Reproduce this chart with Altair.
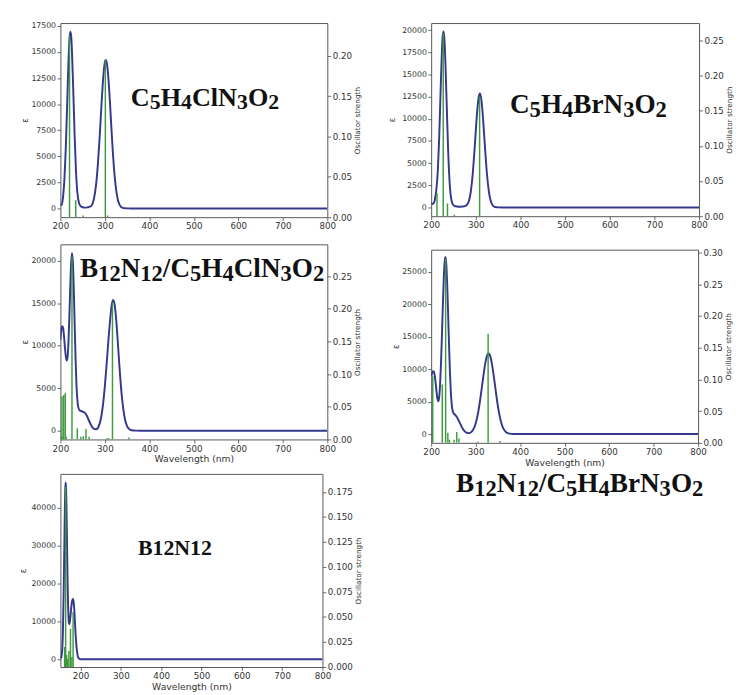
import altair as alt
import pandas as pd

# ---------------- data ----------------
# Panel 1: C5H4ClN3O2
p1_wl = [200, 203, 206, 209, 212, 215, 218, 220, 222, 224, 226, 229, 232, 235, 238, 242, 246, 250, 255, 260,
         265, 270, 275, 280, 284, 288, 292, 295, 298, 300, 302, 304, 306, 309, 312, 315, 318, 322, 326, 330,
         335, 340, 345, 350, 360, 380, 800]
p1_eps = [400, 330, 1140, 2790, 5690, 9730, 13900, 15980, 16960, 16620, 15060, 11180, 6950, 3610, 1570, 500, 200, 110, 80, 100,
          160, 280, 865, 2210, 4100, 6700, 9700, 11800, 13400, 14030, 14250, 14030, 13400, 11800, 9700, 7440, 5320, 3060, 1560, 700,
          215, 55, 15, 5, 0, 0, 0]
p1_stick_wl = [220.5, 234.5, 251, 301, 306]
p1_stick_f = [0.225, 0.021, 0.002, 0.195, 0.002]

# Panel 2: C5H4BrN3O2
p2_wl = [200, 203, 206, 209, 212, 215, 218, 221, 224, 226, 228, 230, 232, 235, 238, 241, 244, 248, 252, 258,
         264, 270, 275, 280, 285, 289, 293, 297, 300, 303, 306, 309, 312, 315, 318, 321, 325, 329, 333, 338,
         343, 350, 360, 800]
p2_eps = [480, 400, 500, 1100, 2200, 4300, 7920, 12930, 17560, 19450, 19850, 18670, 16180, 11210, 6460, 3100, 1240, 400, 180, 100,
          80, 110, 150, 300, 805, 1880, 3750, 6430, 8700, 10810, 12310, 12850, 12310, 10810, 8700, 6430, 3750, 1880, 805, 226,
          50, 10, 0, 0]
p2_stick_wl = [213, 227, 236.5, 252, 308.5]
p2_stick_f = [0.033, 0.26, 0.018, 0.002, 0.17]

# Panel 3: B12N12/C5H4ClN3O2
p3_wl = [200, 202, 204, 206, 208, 210, 212, 214, 216, 218, 220, 222, 224, 226, 228, 230, 232, 234, 236, 238,
         240, 243, 247, 252, 256, 260, 264, 268, 272, 276, 280, 284, 288, 292, 296, 300, 304, 308, 312, 315,
         318, 321, 324, 327, 330, 334, 338, 342, 346, 350, 355, 360, 370, 380, 800]
p3_eps = [10700, 11900, 12300, 12100, 11200, 9900, 8800, 8250, 8600, 10300, 13200, 16700, 19600, 20900, 19900, 16800, 12600, 8600, 5500, 3700,
          2800, 2400, 2300, 2200, 2050, 1700, 1200, 750, 400, 220, 160, 300, 800, 1700, 3200, 5300, 7900, 10700, 13200, 14700,
          15400, 15100, 13900, 12000, 9650, 6600, 4100, 2300, 1150, 520, 180, 60, 10, 0, 0]
p3_stick_wl = [201, 203.5, 205, 207.5, 211, 213, 226, 238, 246, 251.5, 257.5, 264.5, 305, 309, 317, 354]
p3_stick_f = [0.005, 0.066, 0.004, 0.068, 0.071, 0.004, 0.28, 0.017, 0.004, 0.005, 0.016, 0.004, 0.002, 0.002, 0.21, 0.003]

# Panel 4: B12N12/C5H4BrN3O2
p4_wl = [200, 202, 204, 206, 208, 210, 212, 214, 216, 218, 220, 222, 224, 226, 228, 230, 232, 234, 236, 238,
         240, 242, 244, 246, 248, 250, 254, 258, 262, 266, 270, 275, 280, 285, 290, 295, 300, 305, 310, 314,
         318, 322, 326, 329, 332, 336, 340, 344, 348, 353, 358, 363, 368, 374, 380, 390, 800]
p4_eps = [8900, 9400, 9700, 9650, 9000, 7900, 6600, 5500, 5050, 5700, 7600, 10800, 14800, 19300, 23400, 26300, 27300, 26200, 23100, 18800,
          14100, 9900, 6700, 4700, 3700, 3250, 2950, 2600, 2050, 1500, 950, 450, 200, 150, 300, 770, 1640, 3110, 5220, 7230,
          9300, 11070, 12180, 12450, 12180, 11070, 9300, 7230, 5220, 3110, 1640, 760, 320, 100, 30, 0, 0]
p4_stick_wl = [201, 203.5, 225, 232.5, 237.5, 241, 251.5, 257.5, 262.5, 305, 328, 355]
p4_stick_f = [0.004, 0.105, 0.092, 0.29, 0.016, 0.005, 0.005, 0.017, 0.007, 0.002, 0.172, 0.003]

# Panel 5: B12N12
p5_wl = [150, 152, 154, 156, 158, 159, 160, 161, 162, 163, 164, 165, 166, 167, 168, 169, 170, 171, 172, 173,
         175, 177, 179, 181, 183, 185, 187, 189, 191, 193, 195, 198, 202, 210, 800]
p5_eps = [200, 500, 1800, 6500, 17000, 24500, 32000, 39500, 44800, 46700, 45200, 40500, 33500, 26000, 19500, 14500, 11300, 9700, 9300, 9700,
          11500, 13800, 15400, 15900, 15000, 12000, 8000, 4500, 2200, 900, 300, 80, 0, 0, 0]
p5_stick_wl = [160.5, 163, 165.5, 168, 171, 175, 178.5, 181.5]
p5_stick_f = [0.020, 0.18, 0.012, 0.008, 0.016, 0.038, 0.010, 0.055]

left_ticks_1 = [0, 2500, 5000, 7500, 10000, 12500, 15000, 17500]
left_ticks_2 = [0, 2500, 5000, 7500, 10000, 12500, 15000, 17500, 20000]
left_ticks_3 = [0, 5000, 10000, 15000, 20000]
left_ticks_4 = [0, 5000, 10000, 15000, 20000, 25000]
left_ticks_5 = [0, 10000, 20000, 30000, 40000]
right_ticks_1 = [0.0, 0.05, 0.10, 0.15, 0.20]
right_ticks_2 = [0.0, 0.05, 0.10, 0.15, 0.20, 0.25]
right_ticks_3 = [0.0, 0.05, 0.10, 0.15, 0.20, 0.25]
right_ticks_4 = [0.0, 0.05, 0.10, 0.15, 0.20, 0.25, 0.30]
right_ticks_5 = [0.0, 0.025, 0.05, 0.075, 0.10, 0.125, 0.15, 0.175]
x_ticks = [200, 300, 400, 500, 600, 700, 800]

label_1 = "C5H4ClN3O2"
label_2 = "C5H4BrN3O2"
label_3 = "B12N12/C5H4ClN3O2"
label_4 = "B12N12/C5H4BrN3O2"
label_5 = "B12N12"

CURVE = "#34398c"
STICK = "#3f9a3f"
SERIF = "Liberation Serif"

# Times/Liberation Serif Bold advance widths (em) used to lay out subscripts
ADV = {"C": 0.722, "H": 0.778, "l": 0.278, "N": 0.722, "O": 0.778, "B": 0.667,
       "r": 0.444, "/": 0.278}


def formula_layers(text, cx, baseline, size, subscripts=True, sub_ratio=0.83, drop=0.12):
    runs = []
    for ch in text:
        is_sub = subscripts and ch.isdigit()
        if runs and runs[-1][1] == is_sub:
            runs[-1][0] += ch
        else:
            runs.append([ch, is_sub])
    widths = []
    for txt, is_sub in runs:
        s = size * sub_ratio if is_sub else size
        widths.append(sum(ADV.get(c, 0.5) for c in txt) * s)
    x = cx - sum(widths) / 2.0
    out = []
    for (txt, is_sub), w in zip(runs, widths):
        s = size * sub_ratio if is_sub else size
        y = baseline + (size * drop if is_sub else 0)
        out.append(
            alt.Chart(pd.DataFrame({"t": [txt]})).mark_text(
                font=SERIF, fontWeight="bold", fontSize=s, align="left",
                baseline="alphabetic", color="#111111").encode(
                text="t:N", x=alt.value(round(x, 2)), y=alt.value(round(y, 2)))
        )
        x += w
    return out


def panel(wl, eps, swl, sf, xmin, ydom_l, ticks_l, ymax_r, ticks_r, rfmt, x_title, label,
          w=275, h=200, ltp=1):
    cdf = pd.DataFrame({"wl": wl, "eps": eps})
    sdf = pd.DataFrame({"wl": swl, "f": sf, "z": [0.0] * len(sf)})
    xscale = alt.Scale(domain=[xmin, 800], nice=False, zero=False)
    if x_title:
        xax = alt.Axis(values=x_ticks, title=x_title, format="d")
    else:
        xax = alt.Axis(values=x_ticks, title=None, format="d")
    curve = alt.Chart(cdf).mark_line(color=CURVE, strokeWidth=2, interpolate="monotone", clip=True).encode(
        x=alt.X("wl:Q", scale=xscale, axis=xax),
        y=alt.Y("eps:Q", scale=alt.Scale(domain=ydom_l, nice=False, zero=False),
                axis=alt.Axis(values=ticks_l, title="ε", orient="left", format="d", titlePadding=ltp)),
    )
    sticks = alt.Chart(sdf).mark_rule(color=STICK, strokeWidth=1.5, clip=True).encode(
        x=alt.X("wl:Q", scale=xscale, axis=xax),
        y=alt.Y("f:Q", scale=alt.Scale(domain=[0, ymax_r], nice=False, zero=False),
                axis=alt.Axis(values=ticks_r, title="Oscillator strength", orient="right",
                              format=rfmt, titleAngle=270, titleBaseline="top")),
        y2="z:Q",
    )
    text, cx, base, size, subs = label
    layers = [curve, sticks] + formula_layers(text, cx, base, size, subscripts=subs)
    return alt.layer(*layers).resolve_scale(y="independent").properties(width=w, height=h)


p1 = panel(p1_wl, p1_eps, p1_stick_wl, p1_stick_f, 200, [-838, 17780], left_ticks_1, 0.2405, right_ticks_1, ".2f", None,
           (label_1, 149, 85, 27, True))
p2 = panel(p2_wl, p2_eps, p2_stick_wl, p2_stick_f, 200, [-985, 20800], left_ticks_2, 0.275, right_ticks_2, ".2f", None,
           (label_2, 162, 93, 28, True), w=276, h=199, ltp=5)
p3 = panel(p3_wl, p3_eps, p3_stick_wl, p3_stick_f, 200, [-1030, 21940], left_ticks_3, 0.2986, right_ticks_3, ".2f",
           "Wavelength (nm)", (label_3, 146, 34, 28, True), h=201)
p4 = panel(p4_wl, p4_eps, p4_stick_wl, p4_stick_f, 200, [-1350, 28440], left_ticks_4, 0.3046, right_ticks_4, ".2f",
           "Wavelength (nm)", (label_4, 153, 250, 28, True), h=199)
p5 = panel(p5_wl, p5_eps, p5_stick_wl, p5_stick_f, 150, [-2050, 48970], left_ticks_5, 0.1932, right_ticks_5, ".3f",
           "Wavelength (nm)", (label_5, 118, 84, 22.5, False), w=270, h=199, ltp=4)

left = alt.vconcat(p1, alt.vconcat(p3, p5, spacing=9.5), spacing=12)
right = alt.vconcat(p2, p4, spacing=17.5)

chart = alt.hconcat(left, right, spacing=26).properties(
    padding={"left": 10, "top": 3, "right": 0, "bottom": 0},
    background="white",
).configure_view(stroke="#555555", strokeWidth=1).configure_axis(
    domain=False, grid=False, tickColor="#444444", tickSize=3.5, tickWidth=0.8,
    labelFont="DejaVu Sans", labelFontSize=8, labelColor="#333333", labelPadding=1.5,
    labelFlush=False, labelOverlap=False,
    titleFont="DejaVu Sans", titleFontSize=8.5, titleColor="#333333", titleFontWeight="normal",
    titlePadding=1,
).configure_axisX(labelFontSize=9, titleFontSize=9.5).configure_axisRight(
    labelFontSize=9, titleFontSize=7.5, titlePadding=2)

chart.save("out.html", embed_options={"renderer": "svg", "actions": False})
